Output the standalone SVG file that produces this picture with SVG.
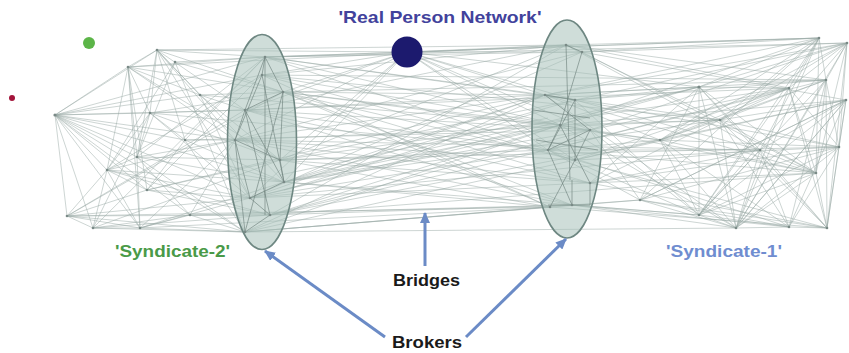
<svg xmlns="http://www.w3.org/2000/svg" width="849" height="353" viewBox="0 0 849 353">
  <style>
    .edge { fill: none; stroke: #98a9a6; stroke-width: 0.9; stroke-opacity: 0.55; }
    .edge-core { fill: none; stroke: #6c7f7b; stroke-width: 0.9; stroke-opacity: 0.7; }
    .hull { fill: #a8c1b9; fill-opacity: 0.55; stroke: #6e8782; stroke-width: 1.6; }
    .node { fill: #7a8a87; }
    .pointer { fill: none; stroke: #6b8bc6; stroke-width: 3; }
    .lbl { font-family: "Liberation Sans", Arial, sans-serif; font-weight: bold; }
  </style>
  <defs>
    <marker id="head" markerUnits="userSpaceOnUse" markerWidth="12" markerHeight="10" refX="10" refY="5" orient="auto">
      <path d="M0 0L11 5L0 10Z" fill="#6b8bc6"/>
    </marker>
  </defs>
  <rect width="849" height="353" fill="#ffffff"/>

  <!-- connectors -->
  <g id="connectors">
    <!-- Syndicate-2 internal -->
    <path class="edge" d="M55 115L128 67M55 115L157 50M55 115L150 113M55 115L137 157M55 115L107 170M55 115L67 216M55 115L93 228M55 115L140 228M55 115L147 190M55 115L185 140M55 115L200 95M55 115L265 57M55 115L245 110M55 115L235 140M55 115L284 182M55 115L250 198M55 115L245 232M55 115L190 215M55 115L262 75
      M128 67L157 50M128 67L150 113M128 67L137 157M128 67L107 170M128 67L147 190M128 67L200 95M128 67L265 57M128 67L283 92M128 67L235 140M128 67L280 160M128 67L140 228
      M157 50L265 57M157 50L200 95M157 50L185 140M157 50L150 113M157 50L245 110M157 50L283 92M157 50L235 140M157 50L284 182M157 50L137 157M157 50L250 198
      M175 62L265 57M175 62L283 92M175 62L245 232M175 62L137 157M175 62L107 170
      M150 113L137 157M150 113L107 170M150 113L185 140M150 113L245 110M150 113L280 160M150 113L250 198M150 113L93 228M150 113L283 92
      M137 157L107 170M137 157L140 228M137 157L190 215M137 157L280 160M137 157L235 140M137 157L265 57M137 157L245 232M137 157L284 182
      M107 170L67 216M107 170L93 228M107 170L140 228M107 170L147 190M107 170L250 198M107 170L284 182M107 170L262 75M107 170L270 215M107 170L235 140
      M67 216L93 228M67 216L140 228M67 216L147 190M67 216L245 232M67 216L270 215M67 216L250 198M67 216L283 92M67 216L245 110
      M93 228L140 228M93 228L190 215M93 228L270 215M93 228L245 232M93 228L280 160M93 228L265 57
      M140 228L190 215M140 228L245 232M140 228L284 182M140 228L250 198M140 228L235 140
      M147 190L185 140M147 190L250 198M147 190L280 160M147 190L262 75M147 190L270 215
      M185 140L235 140M185 140L284 182M185 140L265 57M185 140L245 232
      M200 95L283 92M200 95L245 110M200 95L250 198M200 95L280 160
      M190 215L270 215M190 215L245 232M190 215L235 140"/>
    <!-- bridges between the two broker groups -->
    <path class="edge" d="M157 50L566 45M265 57L582 52M265 57L575 100M265 57L560 125M283 92L560 125M283 92L575 160M283 92L545 95M245 110L590 130M245 110L590 183M235 140L545 95M235 140L572 205M280 160L566 45M280 160L548 150M284 182L575 100M284 182L550 207M250 198L560 125M250 198L582 52M270 215L590 130M270 215L572 205M245 232L550 207M245 232L575 160M245 110L548 150M280 160L590 183M283 92L572 205M284 182L545 95M262 75L590 130M262 75L550 207M235 140L575 160M250 198L545 95M270 215L566 45M265 57L548 150M283 92L550 207M245 232L560 125
      M265 57L545 95M262 75L566 45M262 75L575 160M245 110L566 45M245 110L572 205M235 140L582 52M235 140L590 183M280 160L575 100M280 160L550 207M284 182L560 125M284 182L590 130M250 198L548 150M250 198L590 183M270 215L548 150M270 215L560 125M245 232L572 205M245 232L545 95M283 92L590 183
      M200 95L560 125M185 140L590 130M190 215L572 205M140 228L550 207M150 113L548 150M147 190L545 95M128 67L566 45M67 216L550 207
      M699 87L245 110M789 88L280 160M720 120L284 182M660 140L270 215M760 150L235 140M819 38L265 57M699 87L250 198M640 200L245 232M826 80L283 92M720 120L262 75M545 110L284 190M548 118L280 175
      M789 88L245 110M826 80L262 75M839 147L280 160M816 173L270 215M760 150L250 198M699 215L284 182M736 228L245 232M720 120L235 140M660 140L283 92M847 43L265 57M699 87L284 182"/>
    <!-- real person links -->
    <path class="edge" d="M407 52L265 57M407 52L283 92M407 52L245 110M407 52L235 140M407 52L280 160M407 52L262 75M407 52L284 182M407 52L566 45M407 52L545 95M407 52L575 100M407 52L560 125M407 52L548 150M407 52L590 130M407 52L582 52M407 52L157 50M407 52L699 87M407 52L819 38M407 52L250 198M407 52L575 160"/>
    <!-- Syndicate-1 internal and links to its brokers -->
    <path class="edge" d="M819 38L566 45M819 38L582 52M819 38L699 87M819 38L789 88M819 38L545 95M819 38L560 125M819 38L699 215M819 38L736 228M819 38L660 140M819 38L826 80
      M847 43L582 52M847 43L575 100M847 43L826 80M847 43L839 147M847 43L816 173M847 43L827 228M847 43L699 215M847 43L720 120M847 43L590 130M847 43L736 228
      M699 87L575 100M699 87L560 125M699 87L545 95M699 87L816 173M699 87L789 88M699 87L760 150M699 87L827 228M699 87L590 183
      M789 88L566 45M789 88L590 130M789 88L736 228M789 88L660 140M789 88L699 215M789 88L548 150M789 88L839 147M789 88L575 160
      M826 80L839 147M826 80L736 228M826 80L789 227M826 80L548 150M826 80L660 140M826 80L575 100M826 80L827 228M826 80L699 87
      M839 147L827 228M839 147L736 228M839 147L575 160M839 147L789 227M839 147L720 120M839 147L545 95M839 147L640 200
      M816 173L699 215M816 173L736 228M816 173L590 183M816 173L582 52M816 173L560 125M816 173L760 150M816 173L545 95
      M736 228L699 215M736 228L572 205M736 228L545 95M736 228L640 200M736 228L789 227M736 228L846 100
      M789 227L827 228M789 227L699 215M789 227L548 150M789 227L720 120M789 227L660 140M789 227L846 100
      M827 228L846 100M827 228L550 207M827 228L760 150M827 228L575 160M827 228L640 200
      M699 215L572 205M699 215L548 150M699 215L846 100M699 215L590 130M699 215L660 140
      M660 140L590 130M660 140L846 100M660 140L545 95M660 140L575 160M660 140L720 120
      M760 150L548 150M760 150L590 183M760 150L566 45M760 150L846 100M760 150L736 228
      M720 120L545 95M720 120L590 183M720 120L566 45M720 120L816 173M720 120L846 100
      M846 100L560 125M846 100L575 160M846 100L839 147
      M640 200L548 150M640 200L590 130M640 200L572 205M640 200L819 38
      M819 38L720 120M819 38L760 150M819 38L816 173M847 43L699 87M847 43L789 88M847 43L660 140M826 80L720 120M826 80L816 173M826 80L699 215M789 88L816 173M789 88L827 228M789 88L720 120M699 87L736 228M699 87L699 215M699 87L640 200M760 150L699 215M760 150L789 227M720 120L736 228M720 120L827 228M660 140L736 228M660 140L816 173M640 200L789 227M640 200L846 100M839 147L699 215M839 147L660 140M816 173L827 228M846 100L736 228M846 100L640 200
      M826 80L566 45M839 147L590 183M816 173L548 150M789 227L572 205M827 228L590 183M736 228L560 125M699 215L575 100M760 150L575 100M720 120L560 125M660 140L548 150M846 100L582 52M847 43L545 95"/>
  </g>

  <!-- broker groups -->
  <g id="brokers-2">
    <ellipse class="hull" cx="262" cy="142" rx="34.5" ry="107.5"/>
  </g>
  <g id="brokers-1">
    <ellipse class="hull" cx="567" cy="129" rx="35" ry="109"/>
  </g>

  <!-- ties inside the broker groups -->
  <g id="broker-ties">
    <path class="edge-core" d="M265 57L283 92M265 57L245 110M265 57L262 75M262 75L235 140M283 92L245 110M283 92L280 160M245 110L235 140M245 110L284 182M235 140L280 160M235 140L250 198M280 160L284 182M284 182L250 198M250 198L270 215M270 215L245 232M265 57L265 215M283 92L245 232M262 75L284 182M245 110L270 215M235 140L245 232"/>
    <path class="edge-core" d="M566 45L582 52M566 45L570 180M572 180L572 205M548 205L590 205M590 183L590 205M545 95L590 130M545 95L575 100M560 125L548 150M560 125L590 183M575 100L548 150M548 150L572 205M575 160L550 207M582 52L560 125M590 130L575 160M575 100L575 160M548 150L590 130M533 110L590 118M536 140L598 150"/>
  </g>

  <!-- nodes: Syndicate-2 -->
  <g id="s2-n1"><circle class="node" cx="55" cy="115" r="1.6"/></g>
  <g id="s2-n2"><circle class="node" cx="128" cy="67" r="1.3"/></g>
  <g id="s2-n3"><circle class="node" cx="157" cy="50" r="1.3"/></g>
  <g id="s2-n4"><circle class="node" cx="150" cy="113" r="1.3"/></g>
  <g id="s2-n5"><circle class="node" cx="137" cy="157" r="1.3"/></g>
  <g id="s2-n6"><circle class="node" cx="107" cy="170" r="1.3"/></g>
  <g id="s2-n7"><circle class="node" cx="67" cy="216" r="1.3"/></g>
  <g id="s2-n8"><circle class="node" cx="93" cy="228" r="1.3"/></g>
  <g id="s2-n9"><circle class="node" cx="140" cy="228" r="1.3"/></g>
  <g id="s2-n10"><circle class="node" cx="147" cy="190" r="1.3"/></g>
  <g id="s2-n11"><circle class="node" cx="185" cy="140" r="1.3"/></g>
  <g id="s2-n12"><circle class="node" cx="200" cy="95" r="1.3"/></g>
  <g id="s2-n13"><circle class="node" cx="190" cy="215" r="1.3"/></g>
  <g id="s2-n14"><circle class="node" cx="175" cy="62" r="1.3"/></g>
  <!-- nodes: brokers of Syndicate-2 -->
  <g id="b2-n1"><circle class="node" cx="265" cy="57" r="1.3"/></g>
  <g id="b2-n2"><circle class="node" cx="283" cy="92" r="1.3"/></g>
  <g id="b2-n3"><circle class="node" cx="245" cy="110" r="1.3"/></g>
  <g id="b2-n4"><circle class="node" cx="235" cy="140" r="1.3"/></g>
  <g id="b2-n5"><circle class="node" cx="280" cy="160" r="1.3"/></g>
  <g id="b2-n6"><circle class="node" cx="284" cy="182" r="1.3"/></g>
  <g id="b2-n7"><circle class="node" cx="250" cy="198" r="1.3"/></g>
  <g id="b2-n8"><circle class="node" cx="270" cy="215" r="1.3"/></g>
  <g id="b2-n9"><circle class="node" cx="245" cy="232" r="1.3"/></g>
  <g id="b2-n10"><circle class="node" cx="262" cy="75" r="1.3"/></g>
  <!-- nodes: brokers of Syndicate-1 -->
  <g id="b1-n1"><circle class="node" cx="566" cy="45" r="1.3"/></g>
  <g id="b1-n2"><circle class="node" cx="582" cy="52" r="1.3"/></g>
  <g id="b1-n3"><circle class="node" cx="545" cy="95" r="1.3"/></g>
  <g id="b1-n4"><circle class="node" cx="575" cy="100" r="1.3"/></g>
  <g id="b1-n5"><circle class="node" cx="560" cy="125" r="1.3"/></g>
  <g id="b1-n6"><circle class="node" cx="590" cy="130" r="1.3"/></g>
  <g id="b1-n7"><circle class="node" cx="548" cy="150" r="1.3"/></g>
  <g id="b1-n8"><circle class="node" cx="575" cy="160" r="1.3"/></g>
  <g id="b1-n9"><circle class="node" cx="590" cy="183" r="1.3"/></g>
  <g id="b1-n10"><circle class="node" cx="572" cy="205" r="1.3"/></g>
  <g id="b1-n11"><circle class="node" cx="550" cy="207" r="1.3"/></g>
  <!-- nodes: Syndicate-1 -->
  <g id="s1-n1"><circle class="node" cx="819" cy="38" r="1.3"/></g>
  <g id="s1-n2"><circle class="node" cx="847" cy="43" r="1.3"/></g>
  <g id="s1-n3"><circle class="node" cx="699" cy="87" r="1.6"/></g>
  <g id="s1-n4"><circle class="node" cx="789" cy="88" r="1.3"/></g>
  <g id="s1-n5"><circle class="node" cx="826" cy="80" r="1.3"/></g>
  <g id="s1-n6"><circle class="node" cx="839" cy="147" r="1.3"/></g>
  <g id="s1-n7"><circle class="node" cx="816" cy="173" r="1.3"/></g>
  <g id="s1-n8"><circle class="node" cx="736" cy="228" r="1.3"/></g>
  <g id="s1-n9"><circle class="node" cx="789" cy="227" r="1.3"/></g>
  <g id="s1-n10"><circle class="node" cx="827" cy="228" r="1.3"/></g>
  <g id="s1-n11"><circle class="node" cx="699" cy="215" r="1.3"/></g>
  <g id="s1-n12"><circle class="node" cx="660" cy="140" r="1.3"/></g>
  <g id="s1-n13"><circle class="node" cx="760" cy="150" r="1.3"/></g>
  <g id="s1-n14"><circle class="node" cx="720" cy="120" r="1.3"/></g>
  <g id="s1-n15"><circle class="node" cx="846" cy="100" r="1.3"/></g>
  <g id="s1-n16"><circle class="node" cx="640" cy="200" r="1.3"/></g>

  <!-- isolated nodes -->
  <g id="isolate-red"><circle cx="12" cy="98" r="3" fill="#a3143a"/></g>
  <g id="isolate-green"><circle cx="89" cy="43" r="6" fill="#5cb548"/></g>

  <!-- real person -->
  <g id="real-person">
    <circle cx="407" cy="52" r="15.5" fill="#1c1a6e"/>
    <text class="lbl" x="440" y="23" font-size="17" fill="#42429c" text-anchor="middle" textLength="203" lengthAdjust="spacingAndGlyphs">'Real Person Network'</text>
  </g>

  <!-- group captions -->
  <g id="label-syndicate-2">
    <text class="lbl" x="172.5" y="257" font-size="16" fill="#4a9a48" text-anchor="middle" textLength="115" lengthAdjust="spacingAndGlyphs">'Syndicate-2'</text>
  </g>
  <g id="label-syndicate-1">
    <text class="lbl" x="724" y="257" font-size="16" fill="#6f8dd0" text-anchor="middle" textLength="116" lengthAdjust="spacingAndGlyphs">'Syndicate-1'</text>
  </g>

  <!-- pointers -->
  <g id="pointers">
    <path class="pointer" d="M425 266L425 213" marker-end="url(#head)"/>
    <path class="pointer" d="M385 337L265 251" marker-end="url(#head)"/>
    <path class="pointer" d="M466 337L566 239" marker-end="url(#head)"/>
  </g>
  <g id="label-bridges">
    <text class="lbl" x="426.5" y="286" font-size="16" fill="#1a1a1a" text-anchor="middle" textLength="67" lengthAdjust="spacingAndGlyphs">Bridges</text>
  </g>
  <g id="label-brokers">
    <text class="lbl" x="427" y="348" font-size="16" fill="#1a1a1a" text-anchor="middle" textLength="70" lengthAdjust="spacingAndGlyphs">Brokers</text>
  </g>
</svg>
